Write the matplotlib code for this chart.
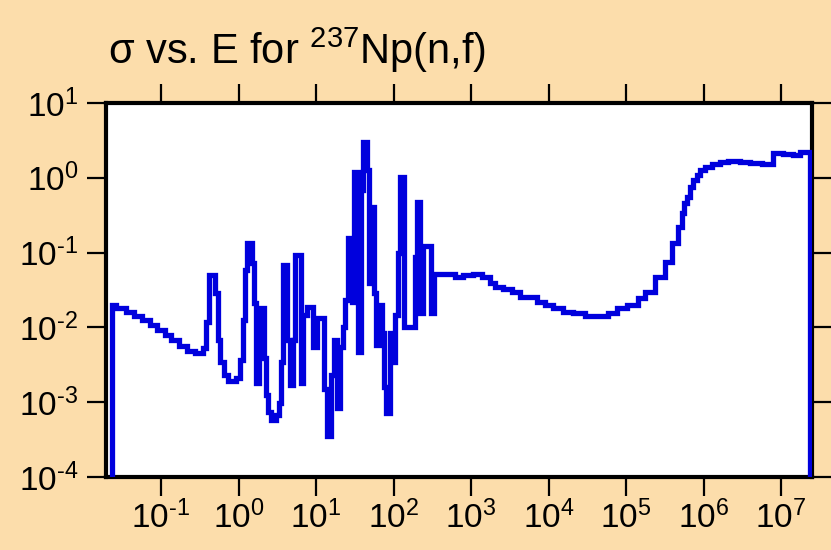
import numpy as np
import matplotlib
matplotlib.use("Agg")
import matplotlib.pyplot as plt
from matplotlib.ticker import FixedLocator, FuncFormatter, NullLocator

plt.rcParams['font.family'] = ['Liberation Sans', 'DejaVu Sans']
plt.rcParams['mathtext.fontset'] = 'custom'
plt.rcParams['mathtext.rm'] = 'Liberation Sans'
plt.rcParams['mathtext.it'] = 'Liberation Sans'
plt.rcParams['mathtext.default'] = 'regular'

# group boundaries (eV) and group cross sections (barns)
energy_edges = [0.0235, 0.0265, 0.0357, 0.0453, 0.0575, 0.0729, 0.0898, 0.111, 0.136, 0.173,
                0.219, 0.278, 0.343, 0.375, 0.410, 0.490, 0.536, 0.585, 0.640, 0.721,
                0.914, 1.03, 1.13, 1.20, 1.27, 1.47, 1.56, 1.66, 1.81, 2.10,
                2.23, 2.37, 2.59, 3.01, 3.29, 3.49, 3.70, 4.17, 4.56, 4.99,
                5.29, 6.33, 6.71, 7.56, 9.03, 10.2, 12.5, 13.7, 15.4, 16.9,
                18.5, 20.2, 22.1, 23.4, 25.6, 28.8, 30.6, 34.5, 37.7, 40.0,
                45.1, 47.8, 50.7, 55.5, 58.9, 66.4, 70.4, 74.7, 79.3, 89.3,
                94.8, 104, 113, 120, 136, 188, 199, 218, 238, 303,
                330, 618, 783, 1054, 1380, 1750, 2030, 2580, 3370, 4270,
                7080, 8980, 1.14e4, 1.53e4, 2.07e4, 2.95e4, 5.85e4, 7.65e4, 1.03e5, 1.43e5,
                1.76e5, 2.37e5, 3.19e5, 3.93e5, 4.70e5, 5.29e5, 5.61e5, 6.14e5, 6.71e5, 7.34e5,
                8.27e5, 9.04e5, 1.05e6, 1.29e6, 1.64e6, 2.08e6, 2.97e6, 4.00e6, 5.71e6, 7.93e6,
                1.07e7, 1.44e7, 1.77e7, 2.38e7]

sigma = [0.020, 0.0183, 0.0162, 0.0143, 0.0126, 0.0108, 0.0093, 0.0080, 0.0068, 0.0057,
         0.0049, 0.0046, 0.0053, 0.0119, 0.0505, 0.029, 0.0068, 0.0035, 0.0023, 0.0019,
         0.0021, 0.0037, 0.0126, 0.059, 0.135, 0.073, 0.0213, 0.0018, 0.0183, 0.0039,
         0.00126, 0.00075, 0.00058, 0.00068, 0.00098, 0.0035, 0.069, 0.0068, 0.0017, 0.0068,
         0.094, 0.0018, 0.0147, 0.0189, 0.0055, 0.0134, 0.0015, 0.00035, 0.0023, 0.0068,
         0.00084, 0.0055, 0.0102, 0.0234, 0.158, 0.0220, 1.20, 0.0047, 0.69, 3.0,
         1.28, 0.0395, 0.41, 0.029, 0.0059, 0.020, 0.0085, 0.0016, 0.00072, 0.0085,
         0.0035, 0.0147, 0.099, 1.03, 0.0102, 0.088, 0.48, 0.0157, 0.123, 0.0157,
         0.052, 0.0475, 0.0505, 0.052, 0.0475, 0.0395, 0.0349, 0.0328, 0.0299, 0.0257,
         0.0220, 0.0200, 0.0183, 0.0162, 0.0157, 0.0143, 0.0157, 0.0183, 0.0200, 0.0249,
         0.0299, 0.0475, 0.0753, 0.135, 0.221, 0.340, 0.463, 0.557, 0.76, 0.94,
         1.10, 1.28, 1.40, 1.54, 1.64, 1.69, 1.64, 1.59, 1.54, 2.16,
         2.09, 2.03, 2.23]

x_ticks = [1e-1, 1e0, 1e1, 1e2, 1e3, 1e4, 1e5, 1e6, 1e7]
y_ticks = [1e-4, 1e-3, 1e-2, 1e-1, 1e0, 1e1]

bg = '#FCDDAB'
fig = plt.figure(figsize=(8.31, 5.5), dpi=100, facecolor=bg)
ax = fig.add_axes([106/831, 1-477/550, (812-106)/831, (477-103)/550])
ax.set_facecolor('white')

ax.stairs(sigma, energy_edges, baseline=1e-4, color='#0000DD', linewidth=3.8, zorder=3)

ax.set_xscale('log')
ax.set_yscale('log')
ax.set_xlim(0.0195, 2.5e7)
ax.set_ylim(1e-4, 10)

def fmt(v, pos):
    e = int(round(np.log10(v)))
    return r'10$^{\text{%d}}$' % e

ax.xaxis.set_major_locator(FixedLocator(x_ticks))
ax.yaxis.set_major_locator(FixedLocator(y_ticks))
ax.xaxis.set_minor_locator(NullLocator())
ax.yaxis.set_minor_locator(NullLocator())
ax.xaxis.set_major_formatter(FuncFormatter(fmt))
ax.yaxis.set_major_formatter(FuncFormatter(fmt))

ax.tick_params(axis='both', which='major', direction='out', length=14, width=1.6,
               labelsize=24, top=True, right=True, labeltop=False, labelright=False,
               colors='black')
ax.tick_params(axis='x', pad=3)
ax.tick_params(axis='y', pad=6)
for s in ax.spines.values():
    s.set_linewidth(3)
    s.set_color('black')

fig.text(108/831, 1-64/550, r'σ vs. E for $^{237}$Np(n,f)', fontsize=30,
         ha='left', va='baseline')

fig.savefig('out.png', dpi=100, facecolor=bg)
